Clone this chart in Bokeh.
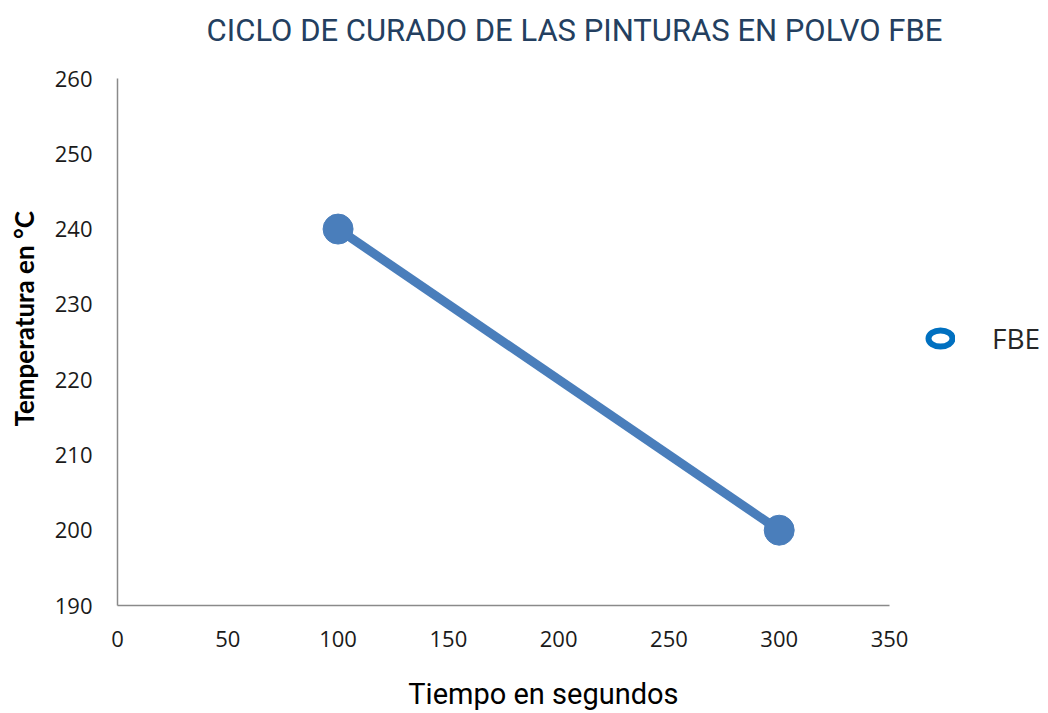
from bokeh.plotting import figure
from bokeh.models import Range1d, Label, Legend, LegendItem, FixedTicker
from bokeh.embed import file_html
from bokeh.resources import INLINE

tiempo = [100, 300]
temperatura = [240, 200]
series_name = "FBE"
x_ticks = [0, 50, 100, 150, 200, 250, 300, 350]
y_ticks = [190, 200, 210, 220, 230, 240, 250, 260]
title_text = "CICLO DE CURADO DE LAS PINTURAS EN POLVO FBE"
x_label = "Tiempo en segundos"
y_label = "Temperatura en °C"

W, H = 1048, 713
LEFT, BOTTOM = 117, 108
AX_W, AX_H = 772, 527          # pixel size of the axis box
x0, x1 = x_ticks[0], x_ticks[-1]
y0, y1 = y_ticks[0], y_ticks[-1]
x_end = x0 + (x1 - x0) * (W - LEFT) / AX_W
y_end = y0 + (y1 - y0) * (H - BOTTOM) / AX_H

p = figure(width=W, height=H, output_backend="svg", toolbar_location=None,
           x_range=Range1d(x0, x_end), y_range=Range1d(y0, y_end),
           min_border_left=LEFT, min_border_right=0, min_border_top=0, min_border_bottom=BOTTOM)
p.outline_line_color = None
p.xgrid.visible = False
p.ygrid.visible = False

for ax in (p.xaxis[0], p.yaxis[0]):
    ax.major_tick_in = 0
    ax.major_tick_out = 0
    ax.minor_tick_in = 0
    ax.minor_tick_out = 0
    ax.axis_line_color = "#8a8a8a"
    ax.axis_line_width = 1.5
    ax.major_label_text_color = "#1a1a1a"
    ax.major_label_text_font = "Open Sans"
    ax.major_label_text_font_size = "22px"

p.xaxis.bounds = (x0, x1)
p.yaxis.bounds = (y0, y1)
p.xaxis.ticker = FixedTicker(ticks=x_ticks)
p.yaxis.ticker = FixedTicker(ticks=y_ticks)
p.xaxis.major_label_standoff = 25
p.xaxis.axis_label = x_label + "\u00a0" * 11
p.xaxis.axis_label_text_font = "Roboto"
p.xaxis.axis_label_text_font_style = "normal"
p.xaxis.axis_label_text_font_size = "29px"
p.xaxis.axis_label_text_color = "#000000"
p.xaxis.axis_label_standoff = 27

p.yaxis.major_label_standoff = 25
p.yaxis.axis_label = y_label + "\u00a0" * 5
p.yaxis.axis_label_text_font = "Lato"
p.yaxis.axis_label_text_font_style = "bold"
p.yaxis.axis_label_text_font_size = "26px"
p.yaxis.axis_label_text_color = "#000000"
p.yaxis.axis_label_standoff = 12

p.line(tiempo, temperatura, line_color="#4a7ebb", line_width=9)
p.scatter(tiempo, temperatura, size=30, fill_color="#4a7ebb", line_color="#4a7ebb")

dummy = p.ellipse([float("nan")], [float("nan")], width=24, height=16,
                  width_units="screen", height_units="screen", fill_color=None,
                  line_color="#0070c0", line_width=6)
legend = Legend(items=[LegendItem(label=series_name, renderers=[dummy])],
                location=(808, 248), border_line_color=None, background_fill_alpha=0,
                label_text_font="Open Sans", label_text_font_size="28px",
                label_text_color="#262626", glyph_width=30, glyph_height=30, label_height=30,
                label_standoff=37, margin=0, padding=0)
p.add_layout(legend, "center")

p.add_layout(Label(x=x0 + (x1 - x0) * (574 - LEFT) / AX_W, y=y_end - (y1 - y0) * 30 / AX_H,
                   text=title_text, text_font="Roboto", text_font_size="31px",
                   text_color="#243f60", text_align="center", text_baseline="middle"))

open("out.html", "w").write(file_html(p, INLINE))
